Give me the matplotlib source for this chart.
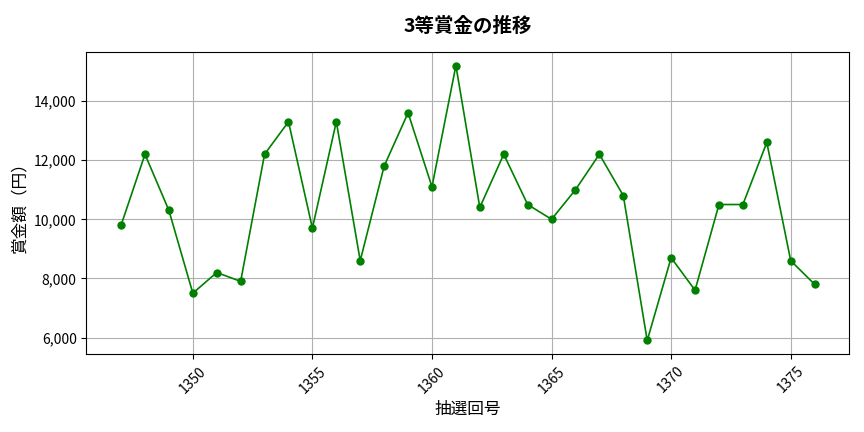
import matplotlib
matplotlib.use("Agg")
import matplotlib.pyplot as plt
from matplotlib.ticker import FuncFormatter

plt.rcParams["font.family"] = ["Noto Sans CJK JP", "DejaVu Sans"]

# 抽選回号と3等賞金（円）
draws = list(range(1347, 1377))
prizes = [9800, 12200, 10300, 7500, 8200, 7900, 12200, 13300, 9700, 13300,
          8600, 11800, 13600, 11100, 15200, 10400, 12200, 10500, 10000, 11000,
          12200, 10800, 5900, 8700, 7600, 10500, 10500, 12600, 8600, 7800]

fig, ax = plt.subplots(figsize=(8.64, 4.32), dpi=100)
ax.plot(draws, prizes, color="green", marker="o", markersize=5, linewidth=1.2)

ax.set_title("3等賞金の推移", fontsize=14, fontweight="bold", pad=14)
ax.set_xlabel("抽選回号", fontsize=12)
ax.set_ylabel("賞金額（円）", fontsize=12)
ax.yaxis.set_major_formatter(FuncFormatter(lambda v, p: f"{int(v):,}"))
ax.tick_params(axis="x", labelrotation=45)
ax.grid(True, color="#b0b0b0", linewidth=0.8)

fig.subplots_adjust(left=0.1, right=0.983, top=0.88, bottom=0.18)
fig.savefig("out.png")
